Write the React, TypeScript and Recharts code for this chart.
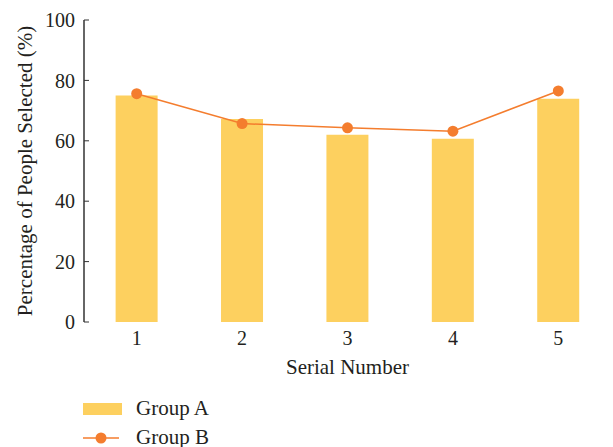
import React from "react";
import { ComposedChart, Bar, Line, XAxis, YAxis } from "recharts";

const categories = ["1", "2", "3", "4", "5"];
const groupA = [75, 67.2, 62, 60.7, 73.9];
const groupB = [75.6, 65.7, 64.3, 63.2, 76.5];
const yTicks = [0, 20, 40, 60, 80, 100];
const boundaryTicks = [1.5, 2.5, 3.5, 4.5];

const data = categories.map((c, i) => ({ name: c, idx: i + 1, a: groupA[i], b: groupB[i] }));

const BAR = "#FDD05F";
const LINE = "#F47D2E";
const TEXT = "#231F20";
const AXIS = "#333333";
const FONT = "'Liberation Serif', 'Times New Roman', serif";

export default function App() {
  return (
    <div style={{ position: "absolute", left: 0, top: 0, width: 613, height: 447, background: "#fff", fontFamily: FONT }}>
      <ComposedChart
        width={613}
        height={447}
        data={data}
        margin={{ top: 20, right: 2, left: 0, bottom: 65 }}
        barCategoryGap="30%"
      >
        <XAxis
          xAxisId="grid"
          type="number"
          dataKey="idx"
          domain={[0.5, 5.5]}
          ticks={boundaryTicks}
          tick={false}
          tickSize={-5}
          axisLine={{ stroke: AXIS, strokeWidth: 1.5 }}
          tickLine={{ stroke: AXIS, strokeWidth: 1 }}
          height={0}
          allowDataOverflow
        />
        <XAxis
          xAxisId="cat"
          dataKey="name"
          axisLine={false}
          tickLine={false}
          tickSize={0}
          tickMargin={9}
          height={60}
          tick={{ fill: TEXT, fontSize: 20, fontFamily: FONT }}
          label={{ value: "Serial Number", position: "insideBottom", offset: 8, fill: TEXT, fontSize: 21, fontFamily: FONT }}
        />
        <YAxis
          domain={[0, 100]}
          ticks={yTicks}
          width={84}
          tickSize={-5}
          tickMargin={14}
          axisLine={{ stroke: AXIS, strokeWidth: 1.5 }}
          tickLine={{ stroke: AXIS, strokeWidth: 1 }}
          tick={{ fill: TEXT, fontSize: 20, fontFamily: FONT }}
          label={{ value: "Percentage of People Selected (%)", angle: -90, position: "center", dx: -17, fill: TEXT, fontSize: 21, fontFamily: FONT }}
        />
        <Bar xAxisId="cat" dataKey="a" fill={BAR} isAnimationActive={false} />
        <Line
          xAxisId="cat"
          dataKey="b"
          stroke={LINE}
          strokeWidth={1.5}
          dot={{ r: 5.5, fill: LINE, stroke: LINE, strokeWidth: 0 }}
          isAnimationActive={false}
        />
      </ComposedChart>
      <div style={{ position: "absolute", left: 83, top: 394, color: TEXT, fontSize: 21, lineHeight: "29px" }}>
        <div style={{ display: "flex", alignItems: "center" }}>
          <svg width={40} height={14} style={{ marginRight: 13 }}>
            <rect x={0} y={1} width={39} height={12} fill={BAR} />
          </svg>
          <span>Group A</span>
        </div>
        <div style={{ display: "flex", alignItems: "center" }}>
          <svg width={40} height={14} style={{ marginRight: 13 }}>
            <line x1={0} y1={7} x2={36} y2={7} stroke={LINE} strokeWidth={1.5} />
            <circle cx={18} cy={7} r={5.5} fill={LINE} />
          </svg>
          <span>Group B</span>
        </div>
      </div>
    </div>
  );
}
